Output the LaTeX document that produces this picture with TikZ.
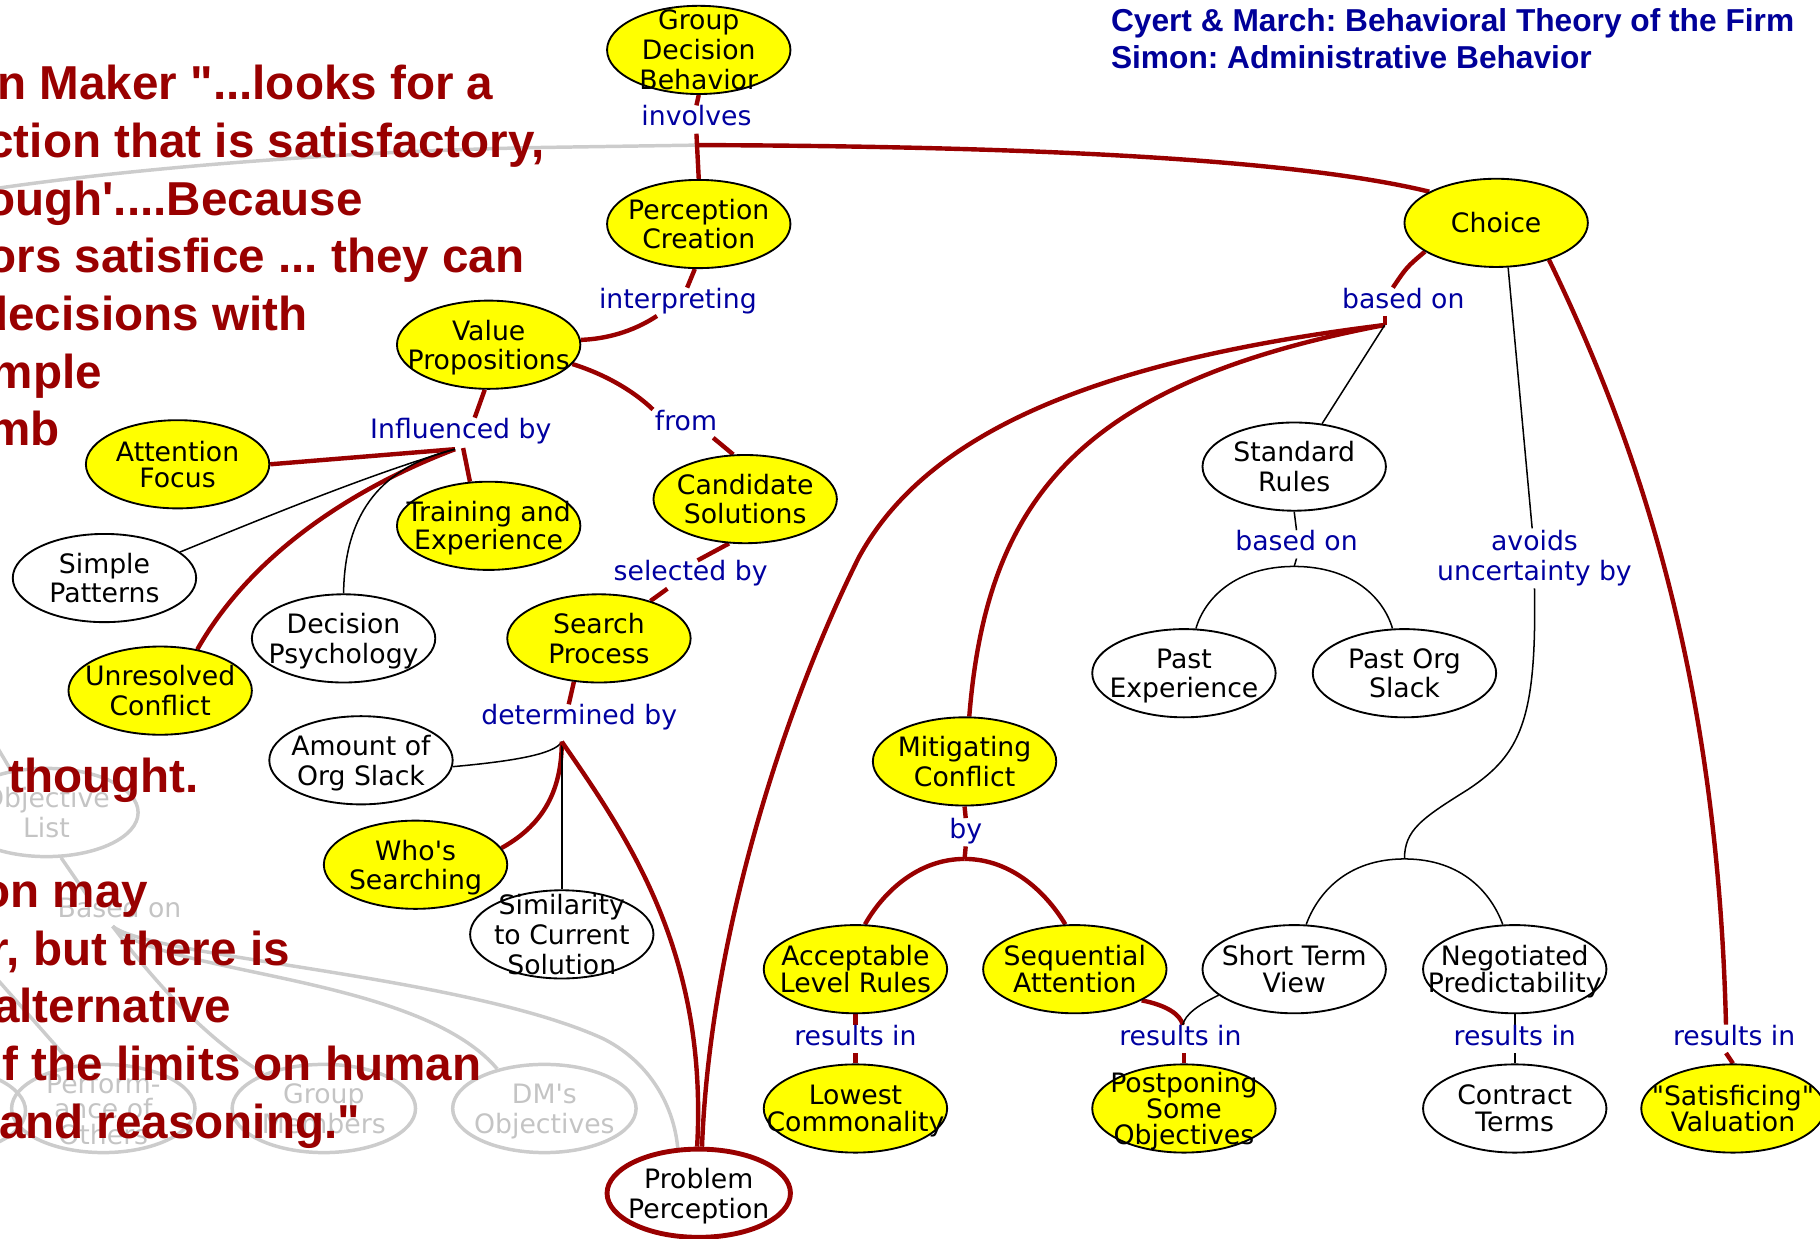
\documentclass[tikz,border=0pt]{standalone}
\usepackage{fontspec}
\setmainfont{DejaVu Sans}
\newfontfamily\quotefont{Liberation Sans}
\usetikzlibrary{shapes.geometric,calc}
\definecolor{cmred}{HTML}{990000}
\definecolor{cmblue}{HTML}{0000A0}
\definecolor{cmnavy}{HTML}{000099}
\definecolor{cmyellow}{HTML}{FFFF00}
\definecolor{ghostline}{HTML}{CCCCCC}
\definecolor{ghosttext}{HTML}{C4C4C4}
\pgfdeclarelayer{ghost}
\pgfdeclarelayer{quote}
\pgfdeclarelayer{edges}
\pgfsetlayers{ghost,quote,edges,main}
\frenchspacing

% concept: name, position, ellipse style, text style, text
% (the struts give every text block the same top and bottom so it sits centred)
\newcommand\cmapnode[5]{%
  \node[#3] (#1) at (#2) {};
  \node[#4] at ($(#1.center)+(0,2.7)$) {\rule{0pt}{17pt}#5\rule[-5.5pt]{0pt}{5.5pt}};
}
\newcommand\apos{\textquotesingle}
\newcommand\dq{\textquotedbl}

\begin{document}
\begin{tikzpicture}[x=1pt,y=-1pt,
  concept/.style={ellipse, draw=black, line width=1.6pt, minimum width=158pt, minimum height=76pt, inner sep=0pt},
  yel/.style={concept, fill=cmyellow},
  wht/.style={concept, fill=white},
  focus/.style={concept, fill=white, draw=cmred, line width=4.2pt},
  faded/.style={concept, draw=ghostline, line width=3pt},
  ctext/.style={align=center, inner sep=0pt, font=\fontsize{23}{25.5}\selectfont},
  gtext/.style={ctext, text=ghosttext},
  link/.style={font=\fontsize{23}{26}\selectfont, text=cmblue, inner sep=1.5pt, text height=16pt, text depth=5pt},
  link2/.style={font=\fontsize{23}{26}\selectfont, text=cmblue, inner sep=1.5pt, align=center},
  glink/.style={link, text=ghosttext},
  strong/.style={draw=cmred, line width=3.8pt},
  weak/.style={draw=black, line width=1.3pt},
  gline/.style={draw=ghostline, line width=3pt},
  quoteline/.style={font=\quotefont\bfseries\fontsize{41}{48}\selectfont, text=cmred, anchor=base west, inner sep=0pt},
  titleline/.style={font=\quotefont\bfseries\fontsize{27.3}{32}\selectfont, text=cmnavy, anchor=base west, inner sep=0pt}
]
\useasboundingbox (0,0) rectangle (1568,1067);
\clip (0,0) rectangle (1568,1067);

% ---------- junction points of the links ----------
\coordinate (J0) at (602,125);
\coordinate (J1) at (392,387);
\coordinate (J1b) at (399,386);
\coordinate (J2) at (484,639);
\coordinate (J3) at (1193,280);
\coordinate (J4) at (1210,740);
\coordinate (J5) at (1115,488);
\coordinate (J6) at (831,740);
\coordinate (J7) at (1019,883);

% ---------- faded background map ----------
\begin{pgfonlayer}{ghost}
  \cmapnode{gOL}{40,700}{faded}{gtext}{Objective\\List}
  \cmapnode{gPO}{89,955}{faded}{gtext, font=\fontsize{23}{22}\selectfont}{Perform-\\ance of\\Others}
  \cmapnode{gGM}{279,955}{faded}{gtext}{Group\\Members}
  \cmapnode{gDM}{469,955}{faded}{gtext}{DM\apos s\\Objectives}
  \node[faded] (gX) at (-57,957) {};
  \node[glink] (gB) at (103,785) {Based on};
  \coordinate (G0) at (97,798);
  \coordinate (gUp) at (-10,631);
  \coordinate (gLeft) at (-40,801);
  \coordinate (gTop) at (-40,168);
  \path[gline] (J0) -- (470,127) .. controls (300,130) and (100,145) .. (gTop);
  \path[gline] (gUp) -- (gOL.130);
  \path[gline] (gOL.-72) -- ($(gB.north)+(-27,0)$);
  \path[gline] (G0) .. controls (125,835) and (170,890) .. (gGM.150);
  \path[gline] (G0) .. controls (140,840) and (360,840) .. (gDM.140);
  \path[gline] (G0) .. controls (130,825) and (400,840) .. (520,895)
               .. controls (565,918) and (582,960) .. (584,991);
  \path[gline] (gLeft) -- (gPO.125);
\end{pgfonlayer}

% ---------- quotation ----------
\begin{pgfonlayer}{quote}
  \node[quoteline] (q0)  at (-2.4,86)    {n Maker \dq...looks for a};
  \node[quoteline] (q1)  at (-11,135.7)  {ction that is satisfactory,};
  \node[quoteline] (q2)  at (-12,185.4)  {ough\apos....Because};
  \node[quoteline] (q3)  at (-11,235.1)  {ors satisfice ... they can};
  \node[quoteline] (q4)  at (-18,284.8)  {decisions with};
  \node[quoteline] (q5)  at (-8,334.5)   {mple};
  \node[quoteline] (q6)  at (-10,384.2)  {mb};
  \node[quoteline] (q12) at (7,682.4)    {thought.};
  \node[quoteline] (q14) at (-16,781.8)  {on may};
  \node[quoteline] (q15) at (-8,831.5)   {r, but there is};
  \node[quoteline] (q16) at (-6,881.2)   {alternative};
  \node[quoteline] (q17) at (2,930.9)    {f the limits on human};
  \node[quoteline] (q18) at (-1,980.6)   {and reasoning.\dq};
\end{pgfonlayer}

% ---------- title ----------
\node[titleline] (t1) at (957,27) {Cyert \& March: Behavioral Theory of the Firm};
\node[titleline] (t2) at (957,59) {Simon: Administrative Behavior};

% ---------- concepts ----------
\cmapnode{gdb}{602,43}{yel}{ctext, font=\fontsize{23}{26}\selectfont}{Group\\Decision\\Behavior}
\cmapnode{pc}{602,193}{yel}{ctext}{Perception\\Creation}
\cmapnode{ch}{1289,192}{yel}{ctext}{Choice}
\cmapnode{vp}{421,297}{yel}{ctext}{Value\\Propositions}
\cmapnode{af}{153,400}{yel}{ctext, font=\fontsize{23}{23}\selectfont}{Attention\\Focus}
\cmapnode{te}{421,453}{yel}{ctext, font=\fontsize{23}{24}\selectfont}{Training and\\Experience}
\cmapnode{cs}{642,430}{yel}{ctext}{Candidate\\Solutions}
\cmapnode{sp}{90,498}{wht}{ctext}{Simple\\Patterns}
\cmapnode{dp}{296,550}{wht}{ctext}{Decision\\Psychology}
\cmapnode{uc}{138,595}{yel}{ctext}{Unresolved\\Conflict}
\cmapnode{spr}{516,550}{yel}{ctext}{Search\\Process}
\cmapnode{aos}{311,655}{wht}{ctext}{Amount of\\Org Slack}
\cmapnode{ws}{358,745}{yel}{ctext}{Who\apos s\\Searching}
\cmapnode{sim}{484,805}{wht}{ctext}{Similarity\\to Current\\Solution}
\cmapnode{pp}{602,1028}{focus}{ctext}{Problem\\Perception}
\cmapnode{sr}{1115,402}{wht}{ctext}{Standard\\Rules}
\cmapnode{pe}{1020,580}{wht}{ctext}{Past\\Experience}
\cmapnode{pos}{1210,580}{wht}{ctext}{Past Org\\Slack}
\cmapnode{mc}{831,656}{yel}{ctext}{Mitigating\\Conflict}
\cmapnode{alr}{737,835}{yel}{ctext, font=\fontsize{23}{23}\selectfont}{Acceptable\\Level Rules}
\cmapnode{sa}{926,835}{yel}{ctext, font=\fontsize{23}{23}\selectfont}{Sequential\\Attention}
\cmapnode{stv}{1115,835}{wht}{ctext, font=\fontsize{23}{23}\selectfont}{Short Term\\View}
\cmapnode{np}{1305,835}{wht}{ctext, font=\fontsize{23}{23}\selectfont}{Negotiated\\Predictability}
\cmapnode{lc}{737,955}{yel}{ctext, font=\fontsize{23}{23}\selectfont}{Lowest\\Commonality}
\cmapnode{pso}{1020,955}{yel}{ctext, font=\fontsize{23}{22.5}\selectfont}{Postponing\\Some\\Objectives}
\cmapnode{ct}{1305,955}{wht}{ctext, font=\fontsize{23}{23}\selectfont}{Contract\\Terms}
\cmapnode{sv}{1493,955}{yel}{ctext, font=\fontsize{23}{23}\selectfont}{\dq Satisficing\dq\\Valuation}

% ---------- linking phrases ----------
\node[link] (lInv)  at (600,103)  {involves};
\node[link] (lInt)  at (584,260)  {interpreting};
\node[link] (lInf)  at (397,372)  {Influenced by};
\node[link] (lFrom) at (591,365)  {from};
\node[link] (lSel)  at (595,495)  {selected by};
\node[link] (lDet)  at (499,619)  {determined by};
\node[link] (lChB)  at (1209,260) {based on};
\node[link] (lSRB)  at (1117,469) {based on};
\node[link2] (lAv)  at (1322,481) {avoids\\uncertainty by};
\node[link] (lBy)   at (832,717)  {by};
\node[link] (lR1)   at (737,895)  {results in};
\node[link] (lR2)   at (1017,895) {results in};
\node[link] (lR3)   at (1305,895) {results in};
\node[link] (lR4)   at (1494,895) {results in};

% ---------- links ----------
\begin{pgfonlayer}{edges}
  % Group Decision Behavior
  \path[strong] (gdb.south) -- (lInv.north);
  \path[strong] (lInv.south) -- (pc.north);
  \path[strong] (J0) .. controls (900,126) and (1120,138) .. (ch.155);
  % Perception Creation -> Value Propositions
  \path[strong] (pc.-95) -- ($(lInt.north)+(8,0)$);
  \path[strong] ($(lInt.south)+(-18,0)$) .. controls (545,286) and (522,292) .. (vp.3);
  % Value Propositions -> influences
  \path[strong] (vp.-95) -- ($(lInf.north)+(12,0)$);
  \path[strong] (J1) -- (af.east);
  \path[strong] (J1b) -- (te.113);
  \path[strong] (J1) .. controls (300,422) and (215,480) .. (uc.48);
  \path[weak] (J1) .. controls (320,408) and (230,445) .. (sp.19);
  \path[weak] (J1) .. controls (330,402) and (297,440) .. (dp.north);
  % Value Propositions -> Candidate Solutions -> Search Process
  \path[strong] (vp.-13) .. controls (520,322) and (545,336) .. (lFrom.north west);
  \path[strong] ($(lFrom.south east)+(-5,0)$) -- (cs.105);
  \path[strong] (cs.-110) -- ($(lSel.north)+(6,0)$);
  \path[strong] ($(lSel.south)+(-20,0)$) -- (spr.36);
  \path[strong] (spr.-120) -- ($(lDet.north)+(-9,0)$);
  % Search Process determined by
  \path[weak] (J2) .. controls (478,650) and (440,656) .. (aos.-4);
  \path[strong] (J2) .. controls (484,690) and (460,715) .. (ws.11);
  \path[weak] (J2) -- (sim.north);
  \path[strong] (J2) .. controls (540,720) and (610,820) .. (pp.92);
  % Choice based on
  \path[strong] (ch.-158) .. controls (1212,230) .. ($(lChB.north)+(-9,0)$);
  \path[strong] ($(lChB.south)+(-16,0)$) -- (J3);
  \path[strong] (J3) .. controls (950,310) and (800,370) .. (740,480)
                .. controls (680,600) and (612,800) .. (pp.86);
  \path[strong] (J3) .. controls (930,330) and (850,430) .. (mc.84);
  \path[weak] (J3) -- (sr.57);
  % Standard Rules based on
  \path[weak] (sr.south) -- (lSRB.north);
  \path[weak] (lSRB.south) -- (J5);
  \path[weak] (J5) .. controls (1065,488) and (1038,515) .. (pe.75);
  \path[weak] (J5) .. controls (1165,488) and (1192,515) .. (pos.105);
  % Choice avoids uncertainty by
  \path[weak] (ch.-75) -- ($(lAv.north)+(-2,0)$);
  \path[weak] (lAv.south) .. controls (1324,620) and (1310,650) .. (1265,680)
              .. controls (1225,705) and (1210,715) .. (J4);
  \path[weak] (J4) .. controls (1160,740) and (1135,770) .. (stv.75);
  \path[weak] (J4) .. controls (1260,740) and (1285,770) .. (np.105);
  % Choice results in
  \path[strong] (ch.-35) .. controls (1420,400) and (1480,600) .. ($(lR4.north)+(-7,0)$);
  \path[strong] ($(lR4.south)+(-7,0)$) -- (sv.north);
  % Mitigating Conflict by
  \path[strong] (mc.south) -- (lBy.north);
  \path[strong] (lBy.south) -- (J6);
  \path[strong] (J6) .. controls (790,740) and (760,770) .. (alr.78);
  \path[strong] (J6) .. controls (872,740) and (902,770) .. (sa.102);
  % results in
  \path[strong] (alr.south) -- (lR1.north);
  \path[strong] (lR1.south) -- (lc.north);
  \path[strong] (sa.-25) .. controls (1005,866) and (1017,874) .. (J7);
  \path[weak] (stv.-161) .. controls (1032,866) and (1021,874) .. (J7);
  \path[strong] ($(lR2.south)+(3,0)$) -- (pso.north);
  \path[weak] (np.south) -- (lR3.north);
  \path[weak] (lR3.south) -- (ct.north);
\end{pgfonlayer}
\end{tikzpicture}
\end{document}
